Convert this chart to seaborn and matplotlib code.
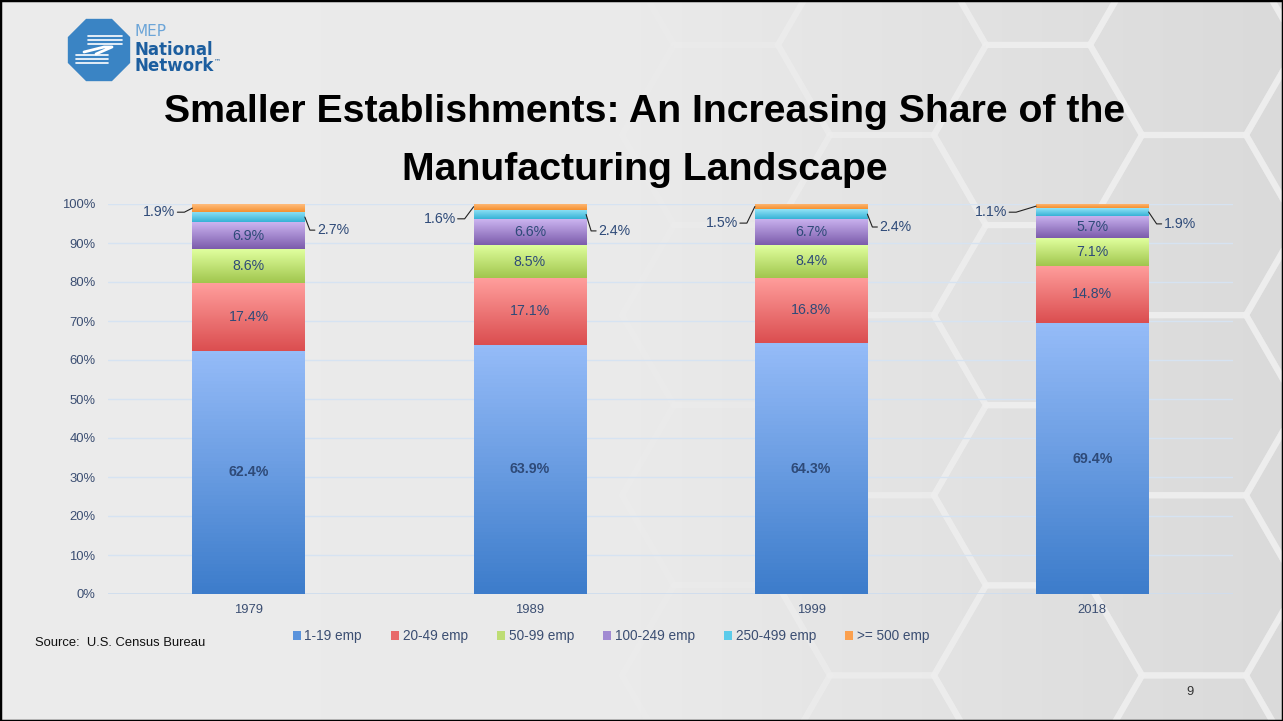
import numpy as np
import matplotlib
matplotlib.use("Agg")
import matplotlib.pyplot as plt
import seaborn as sns
from matplotlib import font_manager
from matplotlib.patches import RegularPolygon, Rectangle, Patch
from matplotlib.colors import LinearSegmentedColormap

# data (share of manufacturing establishments, %)
years = ["1979", "1989", "1999", "2018"]
size_classes = ["1-19 emp", "20-49 emp", "50-99 emp", "100-249 emp", "250-499 emp", ">= 500 emp"]
emp_1_19 = [62.4, 63.9, 64.3, 69.4]
emp_20_49 = [17.4, 17.1, 16.8, 14.8]
emp_50_99 = [8.6, 8.5, 8.4, 7.1]
emp_100_249 = [6.9, 6.6, 6.7, 5.7]
emp_250_499 = [2.7, 2.4, 2.4, 1.9]
emp_500_plus = [1.9, 1.6, 1.5, 1.1]
series = [emp_1_19, emp_20_49, emp_50_99, emp_100_249, emp_250_499, emp_500_plus]

# gradient colours (top, bottom) per size class
grad_colors = [("#95BCF8", "#3D7CCB"), ("#FF9E9C", "#DB4E50"), ("#E0FF9E", "#A1C64E"),
               ("#CBB4F0", "#7C5CAC"), ("#92E3F7", "#37B2D6"), ("#FFBC7C", "#F59130")]
legend_colors = ["#5A93DC", "#E86A6A", "#BEDD74", "#A18AD2", "#5BCBEA", "#FBA04E"]

# leader label placement (y in %)
left_lab_y = [97.9, 96.2, 95.1, 97.9]
right_lab_y = [93.3, 93.1, 94.1, 94.9]
left_gap_px = [17, 18, 17, 29]
right_gap_px = [12, 12, 12, 15]

W, H = 1283, 721
names = {f.name for f in font_manager.fontManager.ttflist}
if "Liberation Sans Narrow" in names:
    FONT, k = "Liberation Sans Narrow", 1.0
else:
    FONT, k = "Liberation Sans", 0.85

sns.set_theme(style="white")
plt.rcParams["font.family"] = [FONT, "DejaVu Sans"]
TXT = "#3B4E72"
LAB = "#2E4A78"

fig = plt.figure(figsize=(W / 100, H / 100), dpi=100)

# slide background with faint hexagons on the right
bg = fig.add_axes([0, 0, 1, 1], zorder=-10)
bg.imshow(np.linspace(0, 1, 256)[None, :], extent=[0, W, H, 0], aspect="auto",
          cmap=LinearSegmentedColormap.from_list("bg", ["#ECECEC", "#EAEAEA", "#DADADA"]))
R = 104
for i in range(-12, 4):
    for j in range(-3, 5):
        cx = 1038 + 1.5 * R * i
        cy = 135 + np.sqrt(3) * R * (j + 0.5 * (i % 2))
        if cx < 560:
            continue
        a = min(1.0, (cx - 560) / 500)
        bg.add_patch(RegularPolygon((cx, cy), 6, radius=R, orientation=np.pi / 6,
                                    fill=False, ec="#F0F0F0", lw=4.5, alpha=0.65 * a))
# logo
bg.add_patch(RegularPolygon((99, 50), 8, radius=33, orientation=np.pi / 8, color="#3A84C4"))
for yy in [36, 40, 44]:
    bg.plot([88, 122], [yy, yy], color="white", lw=1.2)
for yy in [55, 59, 63]:
    bg.plot([76, 108], [yy, yy], color="white", lw=1.2)
bg.plot([84, 104, 112, 96], [52, 47, 47, 54], color="white", lw=2)
bg.text(134, 31, "MEP", fontsize=11, color="#6CA5D8", va="center", family="DejaVu Sans")
bg.text(134, 58, "National\nNetwork", fontsize=12, color="#1C5E9F", va="center", fontweight="bold",
        family="DejaVu Sans", linespacing=0.9)
bg.text(214, 61, "™", fontsize=5, color="#1C5E9F", va="center", family="DejaVu Sans")
bg.set_xlim(0, W)
bg.set_ylim(H, 0)
bg.axis("off")

# chart
ax = fig.add_axes([108 / W, 1 - 594 / H, (1233 - 108) / W, 390 / H])
ax.set_facecolor("none")

bottoms = np.zeros(len(years))
seg_patches = []
for vals, (top, bot) in zip(series, grad_colors):
    n0 = len(ax.patches)
    sns.barplot(x=years, y=vals, color=bot, width=0.4, saturation=1, errorbar=None, ax=ax, zorder=3)
    new = ax.patches[n0:]
    for p, b in zip(new, bottoms):
        p.set_y(b)
        p.set_edgecolor("none")
    seg_patches.append((new, top, bot))
    bottoms = bottoms + np.array(vals)

for new, top, bot in seg_patches:
    cmap = LinearSegmentedColormap.from_list("seg", [bot, top])
    for p in new:
        x0, y0, w, h = p.get_x(), p.get_y(), p.get_width(), p.get_height()
        im = ax.imshow(np.linspace(0, 1, 64)[:, None], extent=[x0, x0 + w, y0, y0 + h],
                       origin="lower", cmap=cmap, aspect="auto", zorder=3.5)
        im.set_clip_path(p)

# values inside segments
cum = np.zeros(len(years))
for s_idx, vals in enumerate(series):
    for i, v in enumerate(vals):
        if s_idx < 4:
            ax.text(i, cum[i] + v / 2, f"{v}%", ha="center", va="center", fontsize=12 * k,
                    color=LAB, fontweight="bold" if s_idx == 0 else "normal", zorder=6)
    cum = cum + np.array(vals)

# leader labels for the thin top segments
px = 1 / 281.3
cum4 = np.sum(series[:4], axis=0)
for i in range(len(years)):
    c_cyan = cum4[i] + emp_250_499[i] / 2
    c_orange = cum4[i] + emp_250_499[i] + emp_500_plus[i] / 2
    xl = i - 0.2
    g = left_gap_px[i]
    ax.plot([xl, xl - (g - 9) * px, xl - (g - 2) * px], [c_orange, left_lab_y[i], left_lab_y[i]],
            color="#222222", lw=0.8, zorder=6, clip_on=False)
    ax.text(xl - g * px, left_lab_y[i], f"{emp_500_plus[i]}%", ha="right", va="center",
            fontsize=12 * k, color=LAB)
    xr = i + 0.2
    g = right_gap_px[i]
    ax.plot([xr, xr + (g - 7) * px, xr + (g - 2) * px], [c_cyan, right_lab_y[i], right_lab_y[i]],
            color="#222222", lw=0.8, zorder=6, clip_on=False)
    ax.text(xr + g * px, right_lab_y[i], f"{emp_250_499[i]}%", ha="left", va="center",
            fontsize=12 * k, color=LAB)

ax.set_xlim(-0.5, 3.5)
ax.set_ylim(0, 100)
ax.set_yticks(range(0, 101, 10))
ax.set_yticklabels([f"{v}%" for v in range(0, 101, 10)])
ax.yaxis.grid(True, color="#D6E3F2", lw=1)
ax.set_axisbelow(True)
for s in ax.spines.values():
    s.set_visible(False)
ax.axhline(0, color="#CFDDEE", lw=1.3, zorder=2)
ax.tick_params(axis="y", length=0, labelsize=11 * k, colors=TXT, pad=9)
ax.tick_params(axis="x", length=0, labelsize=11 * k, colors=TXT, pad=7)
ax.set_xlabel("")
ax.set_ylabel("")

handles = [Patch(facecolor=c, edgecolor="none") for c in legend_colors]
fig.legend(handles, size_classes, ncol=6, loc="center", bbox_to_anchor=(611 / W, 1 - 636 / H),
           frameon=False, handlelength=0.6, handleheight=0.6, handletextpad=0.25,
           columnspacing=2.15, fontsize=11.5 * k, labelcolor=TXT)

# title, fitted to the reference width
t1 = fig.text(645 / W, 1 - 122 / H, "Smaller Establishments: An Increasing Share of the",
              ha="center", va="baseline", fontsize=30, fontweight="bold", color="black")
fig.canvas.draw()
w1 = t1.get_window_extent(fig.canvas.get_renderer()).width
t1.set_fontsize(30 * 963 / w1)
fig.text(645 / W, 1 - 180 / H, "Manufacturing Landscape", ha="center", va="baseline",
         fontsize=30 * 963 / w1, fontweight="bold", color="black")

fig.text(35 / W, 1 - 643 / H, "Source:  U.S. Census Bureau", fontsize=11 * k, va="center", color="#111111")
fig.text(1190 / W, 1 - 692 / H, "9", fontsize=11 * k, ha="center", va="center", color="#333333")
fig.patches.append(Rectangle((0, 0), 1, 1, transform=fig.transFigure, fill=False, lw=2.5, ec="black"))

plt.savefig("out.png", dpi=100)
